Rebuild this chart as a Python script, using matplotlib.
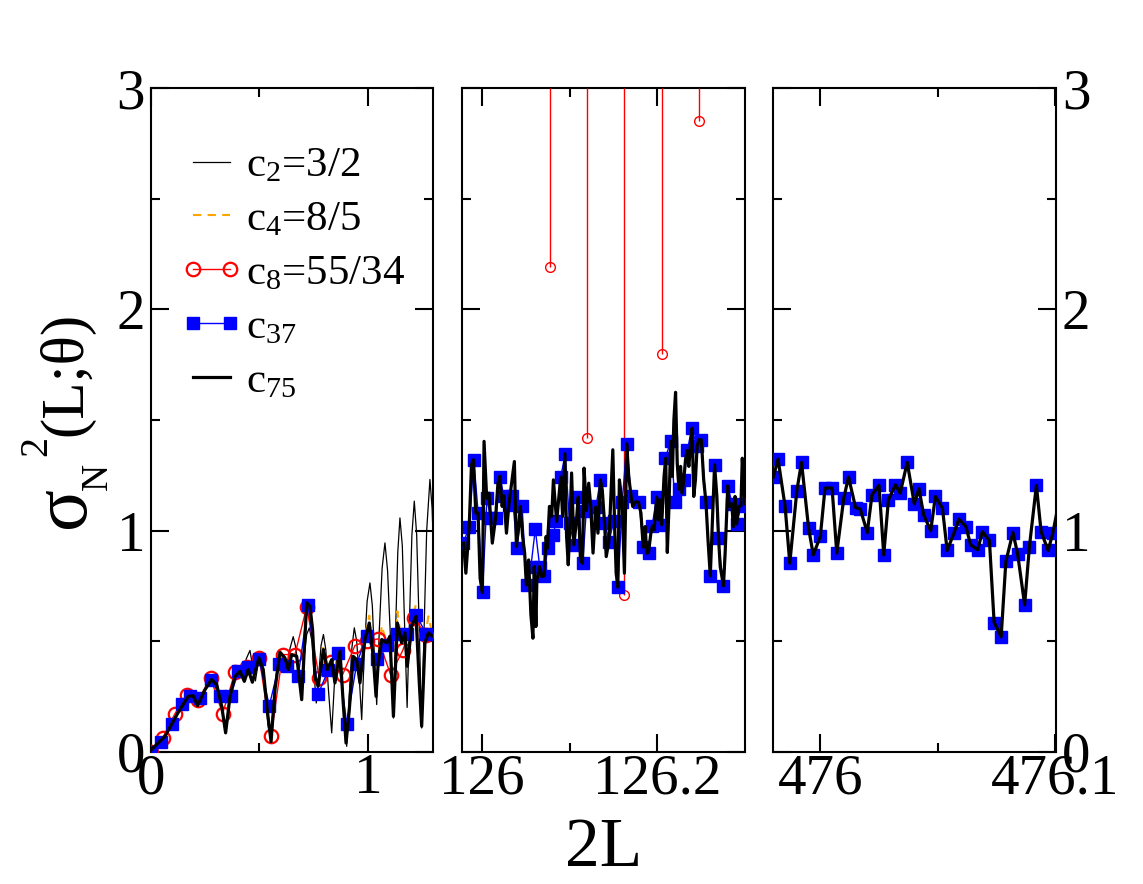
import numpy as np
import matplotlib
matplotlib.use("Agg")
import matplotlib.pyplot as plt
from matplotlib.lines import Line2D
from matplotlib.legend_handler import HandlerLine2D
from matplotlib.ticker import FixedLocator

plt.rcParams['font.family'] = ['Liberation Serif', 'DejaVu Serif']
plt.rcParams['mathtext.fontset'] = 'custom'
plt.rcParams['mathtext.rm'] = 'Liberation Serif'
plt.rcParams['mathtext.it'] = 'Liberation Serif:italic'
plt.rcParams['mathtext.bf'] = 'Liberation Serif:bold'

# ---------------- data: left panel (2L in 0..1.3) ----------------
c2_left_x = [0.000, 0.066, 0.127, 0.173, 0.196, 0.216, 0.250, 0.280, 0.304, 0.327, 0.345, 0.365,
             0.388, 0.411, 0.425, 0.440, 0.457, 0.470, 0.482, 0.498, 0.512, 0.528, 0.540, 0.552,
             0.565, 0.585, 0.600, 0.615, 0.628, 0.642, 0.656, 0.668, 0.680, 0.692, 0.705, 0.718,
             0.730, 0.742, 0.752, 0.762, 0.772, 0.784, 0.795, 0.806, 0.818, 0.833, 0.845, 0.856,
             0.867, 0.878, 0.890, 0.902, 0.914, 0.926, 0.937, 0.948, 0.960, 0.971, 0.983, 0.996,
             1.009, 1.020, 1.030, 1.040, 1.052, 1.065, 1.078, 1.090, 1.104, 1.117, 1.127, 1.137,
             1.147, 1.158, 1.169, 1.180, 1.191, 1.202, 1.213, 1.224, 1.236, 1.247, 1.258, 1.270,
             1.285, 1.295, 1.300]
c2_left_y = [0.000, 0.069, 0.178, 0.250, 0.253, 0.210, 0.285, 0.330, 0.300, 0.200, 0.090, 0.250,
             0.340, 0.370, 0.360, 0.420, 0.458, 0.380, 0.320, 0.420, 0.400, 0.250, 0.120, 0.060,
             0.220, 0.420, 0.450, 0.430, 0.400, 0.470, 0.520, 0.470, 0.360, 0.300, 0.420, 0.530,
             0.560, 0.500, 0.350, 0.220, 0.330, 0.480, 0.530, 0.460, 0.280, 0.085, 0.300, 0.430,
             0.470, 0.380, 0.180, 0.024, 0.260, 0.470, 0.560, 0.500, 0.330, 0.145, 0.450, 0.680,
             0.763, 0.660, 0.420, 0.213, 0.550, 0.830, 0.944, 0.820, 0.500, 0.152, 0.550, 0.900,
             1.057, 0.930, 0.550, 0.200, 0.600, 0.980, 1.133, 0.980, 0.550, 0.107, 0.550, 1.000,
             1.231, 1.100, 0.950]

c75_left_x = [0.000, 0.066, 0.127, 0.173, 0.196, 0.216, 0.250, 0.280, 0.304, 0.327, 0.345, 0.365,
              0.388, 0.411, 0.431, 0.449, 0.468, 0.498, 0.518, 0.538, 0.554, 0.572, 0.595, 0.618,
              0.633, 0.649, 0.672, 0.695, 0.718, 0.733, 0.745, 0.756, 0.771, 0.795, 0.813, 0.833,
              0.848, 0.871, 0.886, 0.899, 0.914, 0.932, 0.948, 0.963, 0.986, 1.006, 1.024, 1.037,
              1.047, 1.063, 1.086, 1.101, 1.117, 1.135, 1.155, 1.170, 1.181, 1.201, 1.221, 1.236,
              1.247, 1.262, 1.278, 1.298]
c75_left_y = [0.006, 0.069, 0.178, 0.250, 0.253, 0.208, 0.280, 0.326, 0.303, 0.205, 0.085, 0.250,
              0.340, 0.363, 0.318, 0.371, 0.314, 0.424, 0.371, 0.175, 0.045, 0.280, 0.449, 0.424,
              0.371, 0.439, 0.431, 0.235, 0.673, 0.658, 0.552, 0.341, 0.296, 0.462, 0.371, 0.416,
              0.311, 0.454, 0.220, 0.039, 0.190, 0.431, 0.416, 0.311, 0.507, 0.582, 0.431, 0.250,
              0.401, 0.507, 0.492, 0.522, 0.160, 0.582, 0.492, 0.537, 0.386, 0.567, 0.612, 0.311,
              0.115, 0.492, 0.537, 0.522]

c4_left_x = c75_left_x
c4_left_y = [0.006, 0.069, 0.178, 0.250, 0.253, 0.208, 0.280, 0.326, 0.303, 0.205, 0.085, 0.250,
             0.340, 0.363, 0.318, 0.371, 0.314, 0.424, 0.371, 0.175, 0.045, 0.280, 0.449, 0.424,
             0.371, 0.450, 0.431, 0.235, 0.680, 0.658, 0.552, 0.341, 0.296, 0.480, 0.371, 0.416,
             0.311, 0.470, 0.220, 0.039, 0.190, 0.431, 0.416, 0.311, 0.530, 0.615, 0.431, 0.250,
             0.401, 0.570, 0.492, 0.522, 0.160, 0.635, 0.492, 0.537, 0.386, 0.600, 0.665, 0.311,
             0.115, 0.520, 0.612, 0.522]

c8_left_x = [0.000, 0.055, 0.112, 0.165, 0.219, 0.276, 0.331, 0.388, 0.442, 0.500, 0.554, 0.607,
             0.664, 0.718, 0.776, 0.828, 0.883, 0.940, 0.994, 1.047, 1.104, 1.160, 1.212, 1.267]
c8_left_y = [0.000, 0.062, 0.172, 0.258, 0.235, 0.333, 0.172, 0.359, 0.383, 0.424, 0.069, 0.439,
             0.439, 0.655, 0.333, 0.404, 0.348, 0.480, 0.500, 0.510, 0.348, 0.458, 0.605, 0.529]

c37_left_x = [0.000, 0.049, 0.097, 0.143, 0.181, 0.227, 0.277, 0.319, 0.368, 0.403, 0.449, 0.498,
              0.546, 0.592, 0.626, 0.679, 0.725, 0.771, 0.817, 0.860, 0.902, 0.948, 0.994, 1.043,
              1.086, 1.132, 1.178, 1.221, 1.267]
c37_left_y = [0.000, 0.042, 0.127, 0.217, 0.253, 0.244, 0.326, 0.253, 0.250, 0.363, 0.383, 0.419,
              0.208, 0.398, 0.389, 0.344, 0.665, 0.262, 0.368, 0.447, 0.127, 0.398, 0.522, 0.419,
              0.484, 0.534, 0.534, 0.620, 0.534]

# ---------------- data: middle panel (2L near 126) ----------------
c8_mid_x = [126.0778, 126.1195, 126.1623, 126.2050, 126.2470]
c8_mid_y = [2.19, 1.42, 0.71, 1.80, 2.85]

c37_mid_x = [125.979, 125.986, 125.991, 125.996, 126.001, 126.006, 126.010, 126.016, 126.021, 126.025,
             126.031, 126.035, 126.040, 126.046, 126.051, 126.056, 126.061, 126.066, 126.071, 126.075,
             126.081, 126.085, 126.090, 126.095, 126.100, 126.105, 126.110, 126.115, 126.119, 126.124,
             126.130, 126.135, 126.140, 126.145, 126.150, 126.155, 126.160, 126.165, 126.170, 126.179,
             126.184, 126.190, 126.194, 126.199, 126.205, 126.209, 126.215, 126.220, 126.224, 126.230,
             126.234, 126.239, 126.245, 126.250, 126.255, 126.260, 126.265, 126.269, 126.275, 126.280,
             126.285, 126.290, 126.295, 126.300]
c37_mid_y = [0.943, 1.018, 1.320, 1.079, 0.720, 1.147, 1.056, 1.056, 1.244, 1.157,
             1.116, 1.157, 0.920, 1.109, 0.754, 0.837, 1.006, 0.837, 0.795, 0.920,
             0.980, 1.041, 1.242, 1.347, 1.033, 0.935, 1.151, 0.852, 1.090, 1.109,
             1.106, 1.229, 1.033, 0.950, 1.041, 0.744, 1.131, 1.392, 1.157, 1.127,
             0.925, 0.900, 1.021, 1.151, 1.026, 1.328, 1.403, 1.127, 1.187, 1.229,
             1.362, 1.463, 1.380, 1.410, 1.127, 0.795, 1.297, 0.966, 0.750, 1.202,
             1.121, 1.030, 1.112, 1.121]

c75_mid_x = [125.9794, 125.9820, 125.9858, 125.9884, 125.9906, 125.9933, 125.9959, 125.9982, 126.0008,
             126.0027, 126.0057, 126.0083, 126.0102, 126.0121, 126.0158, 126.0185, 126.0207, 126.0233,
             126.0252, 126.0282, 126.0309, 126.0346, 126.0372, 126.0395, 126.0421, 126.0440, 126.0466,
             126.0489, 126.0508, 126.0534, 126.0560, 126.0583, 126.0598, 126.0617, 126.0628, 126.0658,
             126.0684, 126.0711, 126.0733, 126.0748, 126.0771, 126.0797, 126.0816, 126.0853, 126.0872,
             126.0899, 126.0921, 126.0947, 126.0966, 126.0985, 126.1004, 126.1023, 126.1049, 126.1079,
             126.1098, 126.1124, 126.1147, 126.1165, 126.1192, 126.1218, 126.1241, 126.1267, 126.1297,
             126.1323, 126.1350, 126.1372, 126.1398, 126.1417, 126.1447, 126.1462, 126.1492, 126.1511,
             126.1530, 126.1549, 126.1567, 126.1597, 126.1624, 126.1650, 126.1673, 126.1699, 126.1718,
             126.1755, 126.1785, 126.1812, 126.1838, 126.1861, 126.1876, 126.1898, 126.1925, 126.1943,
             126.1962, 126.1992, 126.2011, 126.2026, 126.2048, 126.2075, 126.2094, 126.2112, 126.2131,
             126.2150, 126.2169, 126.2187, 126.2206, 126.2225, 126.2244, 126.2263, 126.2281, 126.2300,
             126.2319, 126.2338, 126.2357, 126.2375, 126.2394, 126.2413, 126.2432, 126.2451, 126.2469,
             126.2499, 126.2526, 126.2552, 126.2575, 126.2601, 126.2620, 126.2650, 126.2676, 126.2695,
             126.2714, 126.2751, 126.2770, 126.2800, 126.2815, 126.2845, 126.2864, 126.2883, 126.2901,
             126.2928, 126.2950, 126.2965, 126.2980, 126.2995]
c75_mid_y = [0.943, 0.807, 1.018, 1.297, 1.320, 1.079, 1.079, 0.784, 0.720,
             1.403, 1.146, 1.169, 1.056, 0.943, 1.056, 1.214, 1.245, 1.109,
             1.157, 0.988, 1.116, 1.229, 1.312, 0.928, 1.018, 1.109, 0.973,
             0.898, 0.754, 0.867, 0.619, 0.513, 0.837, 0.566, 0.777, 0.837,
             0.792, 0.795, 0.973, 0.920, 1.109, 1.064, 1.229, 1.041, 1.124,
             1.242, 1.064, 1.347, 0.973, 0.845, 1.033, 1.260, 0.935, 1.048,
             1.151, 0.867, 0.852, 1.282, 1.091, 1.214, 1.109, 0.898, 1.106,
             0.988, 1.229, 1.184, 1.033, 0.882, 0.950, 1.079, 1.365, 1.048,
             0.807, 0.744, 1.229, 1.131, 0.807, 1.392, 1.245, 1.157, 1.109,
             1.131, 1.127, 1.079, 0.925, 1.018, 0.898, 0.901, 0.988, 1.021,
             1.003, 1.151, 1.048, 1.139, 1.026, 1.245, 1.327, 0.901, 1.109,
             1.403, 1.245, 1.501, 1.625, 1.305, 1.187, 1.290, 1.169, 1.229,
             1.320, 1.362, 1.290, 1.380, 1.463, 1.154, 1.229, 1.380, 1.410,
             1.410, 1.229, 1.127, 0.958, 0.795, 0.988, 1.297, 1.154, 0.965,
             0.837, 0.750, 0.898, 1.202, 1.109, 1.121, 1.018, 1.154, 1.030,
             1.109, 1.112, 1.327, 1.229, 1.121]

# ---------------- data: right panel (2L near 476) ----------------
c37_right_x = [475.980, 475.982, 475.985, 475.987, 475.990, 475.992, 475.995, 475.997, 476.000, 476.002,
               476.005, 476.007, 476.010, 476.012, 476.015, 476.017, 476.020, 476.022, 476.025, 476.027,
               476.029, 476.032, 476.034, 476.037, 476.040, 476.042, 476.044, 476.047, 476.049, 476.052,
               476.054, 476.057, 476.059, 476.062, 476.064, 476.067, 476.069, 476.072, 476.074, 476.077,
               476.079, 476.082, 476.084, 476.087, 476.089, 476.092, 476.094, 476.097, 476.099]
c37_right_y = [1.242, 1.323, 1.109, 0.852, 1.180, 1.308, 1.011, 0.890, 0.973, 1.192,
               1.192, 0.898, 1.147, 1.242, 1.104, 1.097, 0.991, 1.162, 1.204, 0.890,
               1.139, 1.207, 1.169, 1.308, 1.121, 1.189, 1.071, 0.999, 1.154, 1.101,
               0.910, 0.991, 1.052, 1.018, 0.935, 0.913, 0.995, 0.955, 0.584, 0.520,
               0.860, 0.991, 0.895, 0.664, 0.925, 1.204, 0.995, 0.910, 0.988]

c75_right_x = c37_right_x + [476.1005]
c75_right_y = c37_right_y + [1.071]

legend_labels = [r'c$_\mathrm{2}$=3/2', r'c$_\mathrm{4}$=8/5', r'c$_\mathrm{8}$=55/34',
                 r'c$_\mathrm{37}$', r'c$_\mathrm{75}$']

# ---------------- figure ----------------
BLUE = '#0000ff'
RED = '#ff0000'
ORANGE = '#ffa500'
FS_TICK = 41

fig = plt.figure(figsize=(11.43, 8.84), dpi=100)
bottom, height = 0.1497, 0.7505
ax1 = fig.add_axes([0.1318, bottom, 0.2472, height])
ax2 = fig.add_axes([0.4045, bottom, 0.2476, height])
ax3 = fig.add_axes([0.6766, bottom, 0.2476, height])

c2_style = dict(color='black', lw=0.9)
c4_style = dict(color=ORANGE, lw=1.5, ls=(0, (4, 3)))
c8_style = dict(color=RED, lw=1.0, marker='o', ms=9.7, mfc='none', mec=RED, mew=1.6)
c37_style = dict(color=BLUE, lw=1.0, marker='s', ms=8, mfc=BLUE, mec=BLUE)
c75_style = dict(color='black', lw=2.3)

# left panel
ax1.plot(c2_left_x, c2_left_y, zorder=2, **c2_style)
ax1.plot(c4_left_x, c4_left_y, zorder=3, **c4_style)
ax1.plot(c8_left_x, c8_left_y, zorder=4, **c8_style)
ax1.plot(c37_left_x, c37_left_y, zorder=5, **c37_style)
ax1.plot(c75_left_x, c75_left_y, zorder=6, **c75_style)

# middle panel
ax2.vlines(c8_mid_x, c8_mid_y, 3.0, color=RED, lw=1.0, zorder=3)
ax2.plot(c8_mid_x, c8_mid_y, ls='none', marker='o', ms=7, mfc='none', mec=RED, mew=1.0, zorder=4)
ax2.plot(c37_mid_x, c37_mid_y, zorder=5, **c37_style)
ax2.plot(c75_mid_x, c75_mid_y, zorder=6, **c75_style)

# right panel
ax3.plot(c37_right_x, c37_right_y, zorder=5, **c37_style)
ax3.plot(c75_right_x, c75_right_y, zorder=6, **c75_style)

ax1.set_xlim(0, 1.3)
ax2.set_xlim(125.978, 126.3)
ax3.set_xlim(475.98, 476.1005)

ax1.set_xticks([0, 1], ['0', '1'])
ax1.xaxis.set_minor_locator(FixedLocator([0.5]))
ax2.set_xticks([126.0, 126.2], ['126', '126.2'])
ax2.xaxis.set_minor_locator(FixedLocator([126.1]))
ax3.set_xticks([476.0, 476.1], ['476', '476.1'])
ax3.xaxis.set_minor_locator(FixedLocator([476.05]))

for ax in (ax1, ax2, ax3):
    ax.set_ylim(0, 3)
    ax.set_yticks([0, 1, 2, 3], ['0', '1', '2', '3'])
    ax.yaxis.set_minor_locator(FixedLocator([0.5, 1.5, 2.5]))
    for s in ax.spines.values():
        s.set_linewidth(1.5)
    ax.tick_params(which='both', direction='in', top=True, bottom=True, left=True, right=True,
                   width=1.5, labelsize=FS_TICK)
    ax.tick_params(which='major', length=13)
    ax.tick_params(which='minor', length=6.5)
    ax.tick_params(axis='x', pad=1)
    ax.tick_params(axis='y', pad=4)

ax1.tick_params(axis='y', labelleft=True, labelright=False)
ax2.tick_params(axis='y', labelleft=False, labelright=False)
ax3.tick_params(axis='y', labelleft=False, labelright=True)

# legend
handles = [Line2D([], [], **c2_style), Line2D([], [], **c4_style), Line2D([], [], **c8_style),
           Line2D([], [], **c37_style), Line2D([], [], **c75_style)]
ax1.legend(handles, legend_labels, loc='upper left', bbox_to_anchor=(0.149, 0.912), frameon=False,
           fontsize=31, numpoints=2, handlelength=0.86, handletextpad=0.38, labelspacing=0.34,
           borderpad=0, borderaxespad=0,
           handler_map={Line2D: HandlerLine2D(marker_pad=0)})

fig.text(0.5284, 0.0204, '2L', fontsize=50, ha='center', va='baseline')

# y-axis title, composed as in the original (sigma, subscript N, raised 2, (L;theta))
ylab = dict(rotation=90, rotation_mode='anchor', ha='center', va='baseline')
fig.text(84 / 1143, 1 - 507 / 884, 'σ', fontsize=56, **ylab)
fig.text(107 / 1143, 1 - 476 / 884, 'N', fontsize=27, **ylab)
fig.text(46 / 1143, 1 - 446 / 884, '2', fontsize=29, **ylab)
fig.text(81 / 1143, 1 - 374 / 884, '(L;θ)', fontsize=44, **ylab)

fig.savefig('out.png', dpi=100)
